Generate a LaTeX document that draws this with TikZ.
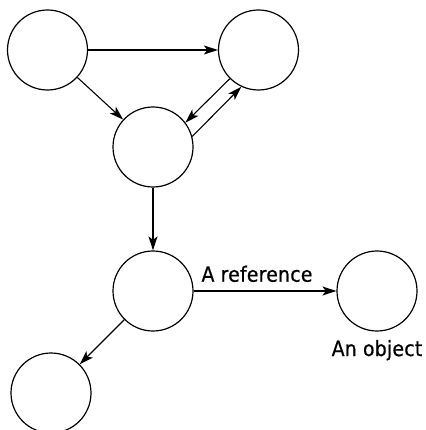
\documentclass[tikz,border=0pt]{standalone}
\usepackage{fontspec}
\setmainfont{DejaVu Sans Condensed}[LetterSpace=1,FakeBold=0.6]
\usetikzlibrary{arrows.meta}
\begin{document}
\begin{tikzpicture}[x=1pt,y=-1pt,
  obj/.style={circle,draw,line width=1.2pt,minimum size=80pt,inner sep=0pt},
  conn/.style={line width=1.1pt,-{Stealth[length=14pt,width=9pt,inset=3.5pt]}},
  lbl/.style={inner sep=0pt,anchor=base,font=\fontsize{21}{25}\selectfont}]
\useasboundingbox (0,0) rectangle (425,430);
\node[obj] (tl) at (47.5,50) {};
\node[obj] (tr) at (258.5,50) {};
\node[obj] (mid) at (153,147) {};
\node[obj] (low) at (153,291) {};
\node[obj] (ob) at (377,291) {};
\node[obj] (bl) at (51,393) {};
\draw[conn] (tl) -- (tr);
\draw[conn] (tl) -- (mid);
\draw[conn] (tr.225) -- (mid.37);
\draw[conn] (mid.15) -- (tr.245);
\draw[conn] (mid) -- (low);
\draw[conn] (low) -- (ob);
\draw[conn] (low) -- (bl);
\node[lbl] (reflbl) at (257,281.7) {A reference};
\node[lbl] (objlbl) at (377,356) {An object};
\end{tikzpicture}
\end{document}
